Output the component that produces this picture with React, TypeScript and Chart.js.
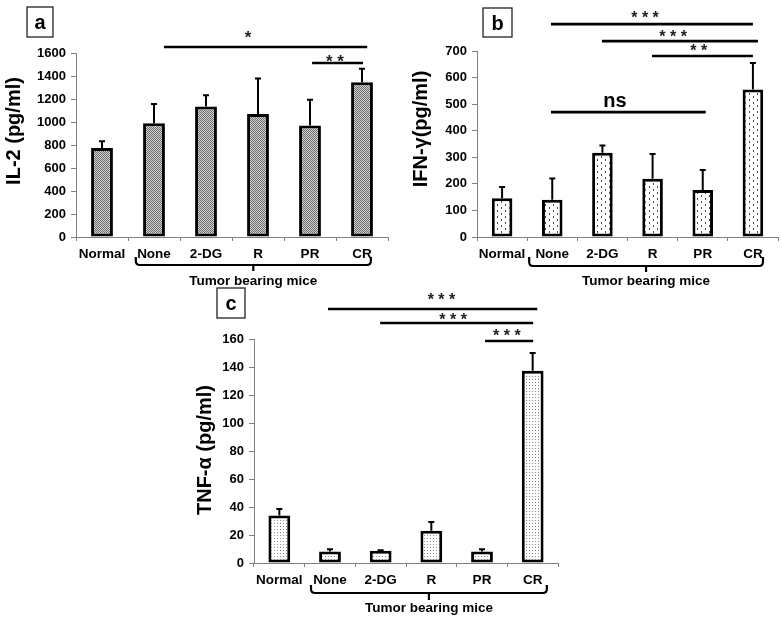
import React, { useEffect, useRef } from 'react';
import { Chart, registerables } from 'chart.js';

Chart.register(...registerables);
Chart.defaults.font.family = '"Liberation Sans", Arial, sans-serif';

const W = 782;
const H = 620;

// ---------- data ----------
const categories = ['Normal', 'None', '2-DG', 'R', 'PR', 'CR'];
const groupLabel = 'Tumor bearing mice';

const il2Values = [775, 990, 1135, 1070, 970, 1345];
const il2Errors = [57, 167, 97, 308, 223, 119];
const il2Max = 1600;
const il2Step = 200;

const ifnValues = [146, 140, 317, 219, 177, 555];
const ifnErrors = [42, 80, 27, 93, 75, 100];
const ifnMax = 700;
const ifnStep = 100;

const tnfValues = [34, 8.3, 8.8, 23, 8.3, 137.4];
const tnfErrors = [4.5, 1.5, 0.3, 6.2, 1.5, 12.6];
const tnfMax = 160;
const tnfStep = 20;

// significance bars: from/to are category positions, level is y value
const il2SigFrom = [1.19, 4.04];
const il2SigTo = [5.1, 5.02];
const il2SigLevel = [1652, 1513];
const il2SigLabel = ['*', '* *'];
const il2SigLabelAt = [2.81, 4.48];
const il2SigLabelLevel = [1774, 1565];

const ifnSigFrom = [0.975, 1.99, 2.99, 0.975];
const ifnSigTo = [5.0, 5.1, 5.0, 4.06];
const ifnSigLevel = [801, 737, 681, 470];
const ifnSigLabel = ['* * *', '* * *', '* *', 'ns'];
const ifnSigLabelAt = [2.85, 3.41, 3.92, 2.25];
const ifnSigLabelLevel = [839, 768, 715, 508];

const tnfSigFrom = [0.96, 1.99, 4.06];
const tnfSigTo = [5.09, 5.01, 5.01];
const tnfSigLevel = [181.4, 171.4, 158.6];
const tnfSigLabel = ['* * *', '* * *', '* * *'];
const tnfSigLabelAt = [3.2, 3.43, 4.49];
const tnfSigLabelLevel = [190.5, 176.4, 165];

type Panel = {
  letter: string;
  yTitle: string;
  values: number[];
  errors: number[];
  max: number;
  step: number;
  sigFrom: number[];
  sigTo: number[];
  sigLevel: number[];
  sigLabel: string[];
  sigLabelAt: number[];
  sigLabelLevel: number[];
  pattern: string;
  area: { left: number; right: number; top: number; bottom: number };
  barPct: number;
  titleX: number;
  titleY: number;
  box: { x: number; y: number; w: number; h: number };
  bracket: { from: number; to: number; top: number; y: number; nub: number };
  groupY: number;
  starSize: number;
};

const panels: Panel[] = [
  {
    letter: 'a', yTitle: 'IL-2 (pg/ml)', values: il2Values, errors: il2Errors, max: il2Max, step: il2Step,
    sigFrom: il2SigFrom, sigTo: il2SigTo, sigLevel: il2SigLevel, sigLabel: il2SigLabel,
    sigLabelAt: il2SigLabelAt, sigLabelLevel: il2SigLabelLevel,
    pattern: 'checker', area: { left: 76, right: 388, top: 53, bottom: 237 }, barPct: 0.42,
    titleX: 20, titleY: 131, box: { x: 27, y: 7, w: 26, h: 30 },
    bracket: { from: 0.65, to: 5.17, top: 257, y: 265, nub: 271 }, groupY: 281, starSize: 17,
  },
  {
    letter: 'b', yTitle: 'IFN-γ(pg/ml)', values: ifnValues, errors: ifnErrors, max: ifnMax, step: ifnStep,
    sigFrom: ifnSigFrom, sigTo: ifnSigTo, sigLevel: ifnSigLevel, sigLabel: ifnSigLabel,
    sigLabelAt: ifnSigLabelAt, sigLabelLevel: ifnSigLabelLevel,
    pattern: 'dash', area: { left: 477, right: 778, top: 51, bottom: 237 }, barPct: 0.41,
    titleX: 427, titleY: 129, box: { x: 483, y: 8, w: 29, h: 29 },
    bracket: { from: 0.54, to: 5.2, top: 257, y: 266, nub: 272 }, groupY: 281, starSize: 16,
  },
  {
    letter: 'c', yTitle: 'TNF-α (pg/ml)', values: tnfValues, errors: tnfErrors, max: tnfMax, step: tnfStep,
    sigFrom: tnfSigFrom, sigTo: tnfSigTo, sigLevel: tnfSigLevel, sigLabel: tnfSigLabel,
    sigLabelAt: tnfSigLabelAt, sigLabelLevel: tnfSigLabelLevel,
    pattern: 'dots', area: { left: 254, right: 558, top: 339, bottom: 563 }, barPct: 0.43,
    titleX: 211, titleY: 450, box: { x: 217, y: 288, w: 28, h: 30 },
    bracket: { from: 0.625, to: 5.28, top: 585, y: 593, nub: 600 }, groupY: 608, starSize: 16,
  },
];

function makePattern(kind: string): CanvasPattern | string {
  const c = document.createElement('canvas');
  const g = c.getContext('2d');
  if (!g) return '#aaa';
  if (kind === 'checker') {
    c.width = 2; c.height = 2;
    g.fillStyle = '#d4d4d4'; g.fillRect(0, 0, 2, 2);
    g.fillStyle = '#6a6a6a'; g.fillRect(0, 0, 1, 1); g.fillRect(1, 1, 1, 1);
  } else if (kind === 'dash') {
    c.width = 8; c.height = 6;
    g.fillStyle = '#ffffff'; g.fillRect(0, 0, 8, 6);
    g.fillStyle = '#4a4a4a'; g.fillRect(1, 0, 1, 2); g.fillRect(5, 3, 1, 2);
  } else {
    c.width = 3; c.height = 3;
    g.fillStyle = '#ffffff'; g.fillRect(0, 0, 3, 3);
    g.fillStyle = '#8c8c8c'; g.fillRect(1, 1, 1, 1);
  }
  return g.createPattern(c, 'repeat') || '#aaa';
}

const FONT = '"Liberation Sans", Arial, sans-serif';

function annotPlugin(p: Panel) {
  return {
    id: 'annot' + p.letter,
    afterDatasetsDraw(chart: any) {
      const ctx = chart.ctx;
      const ys = chart.scales.y;
      const meta = chart.getDatasetMeta(0);
      ctx.save();
      ctx.strokeStyle = '#000';
      ctx.lineWidth = 2;
      meta.data.forEach((bar: any, i: number) => {
        const x = bar.x;
        const top = ys.getPixelForValue(p.values[i] + p.errors[i]);
        ctx.beginPath();
        ctx.moveTo(x, bar.y);
        ctx.lineTo(x, top);
        ctx.moveTo(x - 3, top);
        ctx.lineTo(x + 3, top);
        ctx.stroke();
      });
      ctx.restore();
    },
    afterDraw(chart: any) {
      const ctx = chart.ctx;
      const xs = chart.scales.x;
      const ys = chart.scales.y;
      ctx.save();
      // significance bars
      ctx.strokeStyle = '#000';
      ctx.lineWidth = 2.6;
      for (let i = 0; i < p.sigFrom.length; i++) {
        const y = ys.getPixelForValue(p.sigLevel[i]);
        ctx.beginPath();
        ctx.moveTo(xs.getPixelForValue(p.sigFrom[i]), y);
        ctx.lineTo(xs.getPixelForValue(p.sigTo[i]), y);
        ctx.stroke();
        const lx = xs.getPixelForValue(p.sigLabelAt[i]);
        const ly = ys.getPixelForValue(p.sigLabelLevel[i]);
        ctx.textAlign = 'center';
        ctx.textBaseline = 'alphabetic';
        if (p.sigLabel[i] === 'ns') {
          ctx.fillStyle = '#000';
          ctx.font = 'bold 20px ' + FONT;
          ctx.fillText('ns', lx, ly + 0.26 * 20);
        } else {
          ctx.fillStyle = '#222';
          ctx.font = 'bold ' + p.starSize + 'px ' + FONT;
          ctx.fillText(p.sigLabel[i], lx, ly + 0.57 * p.starSize);
        }
      }
      // bracket
      const b = p.bracket;
      const xl = xs.getPixelForValue(b.from);
      const xr = xs.getPixelForValue(b.to);
      const xc = (xl + xr) / 2;
      ctx.lineWidth = 2.2;
      ctx.beginPath();
      ctx.moveTo(xl, b.top);
      ctx.lineTo(xl, b.y - 4);
      ctx.quadraticCurveTo(xl, b.y, xl + 4, b.y);
      ctx.lineTo(xr - 4, b.y);
      ctx.quadraticCurveTo(xr, b.y, xr, b.y - 4);
      ctx.lineTo(xr, b.top);
      ctx.moveTo(xc, b.y);
      ctx.lineTo(xc, b.nub);
      ctx.stroke();
      ctx.fillStyle = '#000';
      ctx.font = 'bold 13.5px ' + FONT;
      ctx.textAlign = 'center';
      ctx.textBaseline = 'middle';
      ctx.fillText(groupLabel, xc, p.groupY);
      // letter box
      ctx.lineWidth = 1.3;
      ctx.strokeStyle = '#222';
      ctx.strokeRect(p.box.x, p.box.y, p.box.w, p.box.h);
      ctx.font = 'bold 20px ' + FONT;
      ctx.textBaseline = 'alphabetic';
      ctx.fillText(p.letter, p.box.x + p.box.w / 2, p.box.y + p.box.h / 2 + 7);
      // y title
      ctx.translate(p.titleX, p.titleY);
      ctx.rotate(-Math.PI / 2);
      ctx.font = 'bold 20px ' + FONT;
      ctx.textAlign = 'center';
      ctx.textBaseline = 'alphabetic';
      ctx.fillText(p.yTitle, 0, 0);
      ctx.restore();
    },
  };
}

function makeChart(canvas: HTMLCanvasElement, p: Panel) {
  return new Chart(canvas, {
    type: 'bar',
    data: {
      labels: categories,
      datasets: [
        {
          data: p.values,
          backgroundColor: makePattern(p.pattern) as any,
          borderColor: '#000',
          borderWidth: 3,
          borderSkipped: false,
          barPercentage: p.barPct,
          categoryPercentage: 1,
        },
      ],
    },
    options: {
      responsive: false,
      animation: false,
      events: [],
      layout: { padding: { top: p.area.top, right: W - p.area.right, left: 0, bottom: 0 } },
      plugins: { legend: { display: false }, tooltip: { enabled: false }, title: { display: false } },
      scales: {
        x: {
          type: 'category',
          offset: true,
          grid: { display: true, drawOnChartArea: false, drawTicks: true, tickLength: 4, color: '#808080', offset: true },
          border: { display: true, color: '#808080', width: 1 },
          ticks: { color: '#000', font: { size: 13.5, weight: 'bold' }, padding: 5, maxRotation: 0, autoSkip: false },
          afterFit: (s: any) => { s.height = H - p.area.bottom; },
        },
        y: {
          min: 0,
          max: p.max,
          grid: { display: true, drawOnChartArea: false, drawTicks: true, tickLength: 5, color: '#808080' },
          border: { display: true, color: '#808080', width: 1 },
          ticks: {
            stepSize: p.step, color: '#000', font: { size: 13, weight: 'bold' }, padding: 5,
            callback: (v: any) => String(v),
          },
          afterFit: (s: any) => { s.width = p.area.left; },
        },
      },
    } as any,
    plugins: [annotPlugin(p)],
  });
}

export default function App() {
  const r0 = useRef<HTMLCanvasElement>(null);
  const r1 = useRef<HTMLCanvasElement>(null);
  const r2 = useRef<HTMLCanvasElement>(null);

  useEffect(() => {
    const refs = [r0, r1, r2];
    const charts = panels.map((p, i) => makeChart(refs[i].current as HTMLCanvasElement, p));
    return () => charts.forEach((c) => c.destroy());
  }, []);

  const cs: React.CSSProperties = { position: 'absolute', left: 0, top: 0, width: W, height: H };
  return (
    <div style={{ position: 'relative', width: W, height: H, background: '#fff', overflow: 'hidden' }}>
      <style>{'body{margin:0;background:#fff;}'}</style>
      <canvas ref={r0} width={W} height={H} style={cs} />
      <canvas ref={r1} width={W} height={H} style={cs} />
      <canvas ref={r2} width={W} height={H} style={cs} />
    </div>
  );
}
